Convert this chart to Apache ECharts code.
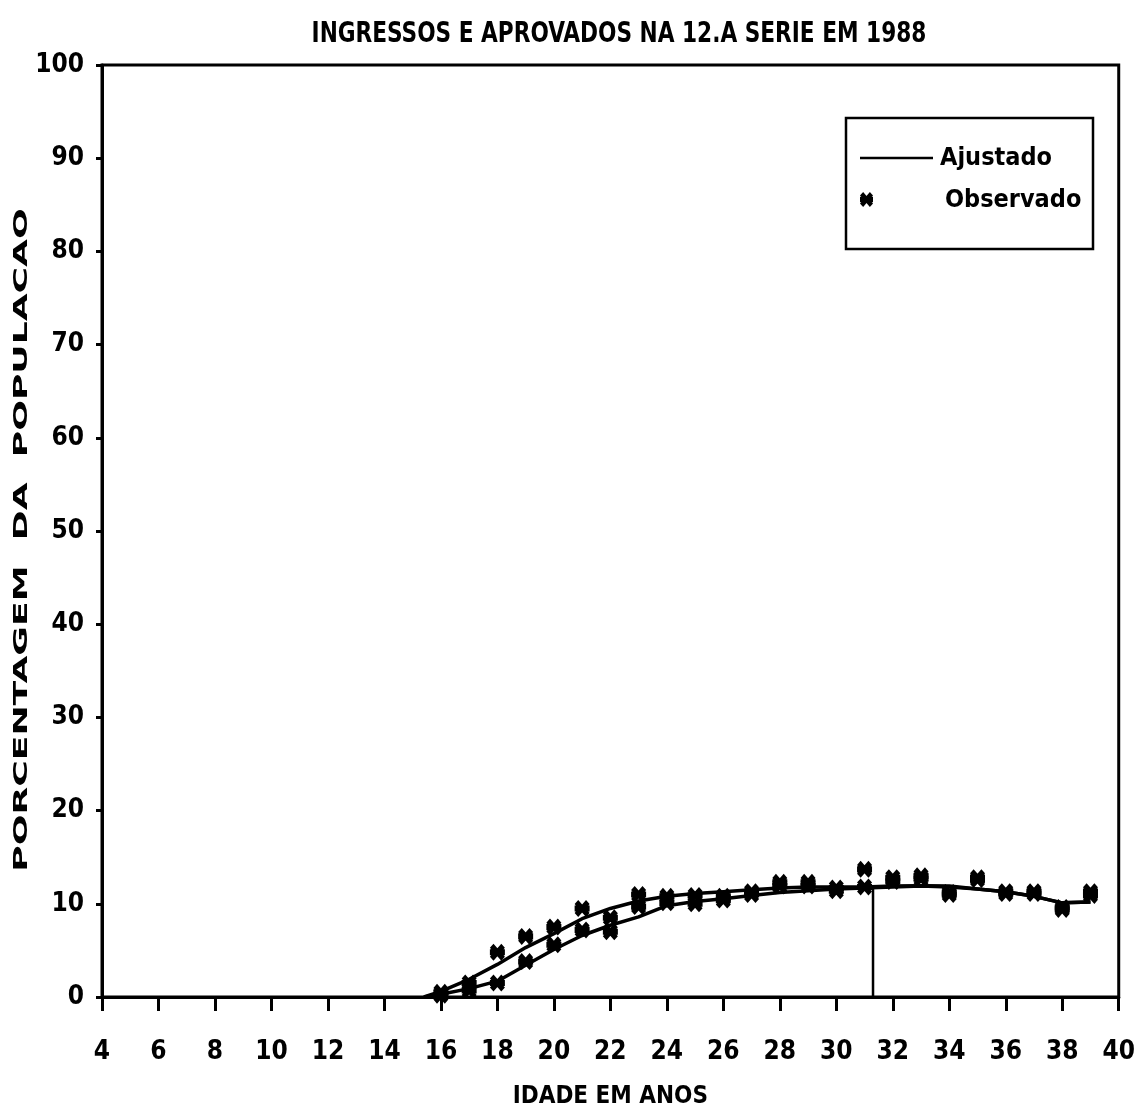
<!DOCTYPE html>
<html>
<head>
<meta charset="utf-8">
<title>Ingressos e aprovados na 12.a serie em 1988</title>
<script src="https://cdn.jsdelivr.net/npm/echarts@6/dist/echarts.min.js"></script>
<style>
  html, body { margin: 0; padding: 0; background: #fff; }
  #chart { width: 1138px; height: 1115px; }
</style>
</head>
<body>
<div id="chart"></div>
<script>
// Age axis (years) and percentage axis ticks
const xTicks = [4, 6, 8, 10, 12, 14, 16, 18, 20, 22, 24, 26, 28, 30, 32, 34, 36, 38, 40];
const yTicks = [0, 10, 20, 30, 40, 50, 60, 70, 80, 90, 100];

// Observed percentages by single year of age
const obsAges = [16, 17, 18, 19, 20, 21, 22, 23, 24, 25, 26, 27, 28, 29, 30, 31, 32, 33, 34, 35, 36, 37, 38, 39];
const obsIngressos = [0.5, 1.5, 4.8, 6.5, 7.5, 9.5, 8.5, 11.0, 10.8, 10.9, 10.8, 11.3, 12.3, 12.3, 11.7, 13.7, 12.8, 13.0, 11.0, 12.8, 11.3, 11.3, 9.6, 11.3];
const obsAprovados = [0.2, 0.7, 1.5, 3.8, 5.6, 7.2, 7.0, 9.7, 10.1, 10.0, 10.4, 11.0, 11.9, 11.9, 11.4, 11.8, 12.4, 12.7, 11.2, 12.6, 11.1, 11.1, 9.4, 10.9];

// Fitted curves
const fitAges = [15.4, 16, 17, 18, 19, 20, 21, 22, 23, 24, 25, 26, 27, 28, 29, 30, 31, 32, 33, 34, 35, 36, 37, 38, 39];
const fitIngressos = [0, 0.6, 1.9, 3.5, 5.3, 6.8, 8.4, 9.5, 10.3, 10.8, 11.1, 11.3, 11.5, 11.7, 11.8, 11.8, 11.8, 11.9, 11.95, 11.9, 11.6, 11.3, 10.8, 10.1, 10.2];
const fitAprovados = [0, 0.3, 0.9, 1.7, 3.4, 5.1, 6.6, 7.7, 8.6, 9.8, 10.25, 10.55, 10.9, 11.2, 11.4, 11.6, 11.7, 11.8, 11.9, 11.8, 11.6, 11.3, 10.8, 10.1, 10.2];

// Mean age marker
const meanAge = 31.3;
const meanLevel = 11.8;

const FONT = "'DejaVu Sans Condensed', 'Liberation Sans Narrow', 'Arial Narrow', sans-serif";

// Six-armed asterisk: horizontal bar plus two diagonals (10x10 box)
const STAR_PARTS = [
  [[0, 3.2], [10, 3.2], [10, 6.8], [0, 6.8]],
  [[0, 2.4], [2.4, 0], [10, 7.6], [7.6, 10]],
  [[7.6, 0], [10, 2.4], [2.4, 10], [0, 7.6]]
];
const STAR = 'path://' + STAR_PARTS.map(p => 'M' + p.map(q => q.join(',')).join(' L') + ' Z').join(' ');

const zip = (xs, ys) => xs.map((x, i) => [x, ys[i]]);

const chart = echarts.init(document.getElementById('chart'), null, { renderer: 'canvas' });

const axisText = { color: '#000', fontFamily: FONT, fontWeight: 'bold', fontSize: 26 };
const starStyle = { color: '#000', opacity: 1 };

chart.setOption({
  animation: false,
  backgroundColor: '#fff',
  grid: {
    left: 102, right: 17, top: 65, bottom: 118,
    show: true, borderColor: '#000', borderWidth: 3, backgroundColor: 'transparent'
  },
  xAxis: {
    type: 'value', min: xTicks[0], max: xTicks[xTicks.length - 1], interval: 2,
    name: 'IDADE EM ANOS', nameLocation: 'middle', nameGap: 88,
    nameTextStyle: { color: '#000', fontFamily: FONT, fontWeight: 'bold', fontSize: 24 },
    axisLine: { lineStyle: { color: '#000', width: 3 } },
    axisTick: { length: 14, lineStyle: { color: '#000', width: 3 } },
    axisLabel: Object.assign({ margin: 42 }, axisText),
    splitLine: { show: false }
  },
  yAxis: {
    type: 'value', min: yTicks[0], max: yTicks[yTicks.length - 1], interval: 10,
    axisLine: { show: true, lineStyle: { color: '#000', width: 3 } },
    axisTick: { show: true, length: 6, lineStyle: { color: '#000', width: 3 } },
    axisLabel: Object.assign({ margin: 18 }, axisText),
    splitLine: { show: false }
  },
  series: [
    {
      name: 'Ajustado', type: 'line', data: zip(fitAges, fitIngressos),
      showSymbol: false, lineStyle: { color: '#000', width: 3.5 }, z: 3
    },
    {
      name: 'Ajustado', type: 'line', data: zip(fitAges, fitAprovados),
      showSymbol: false, lineStyle: { color: '#000', width: 3.5 }, z: 3
    },
    {
      name: 'Media', type: 'line', data: [[meanAge, 0], [meanAge, meanLevel]],
      showSymbol: false, lineStyle: { color: '#000', width: 2.5 }, z: 3
    },
    {
      name: 'Observado', type: 'scatter', data: zip(obsAges, obsIngressos),
      symbol: STAR, symbolSize: [15, 17], itemStyle: starStyle, z: 4
    },
    {
      name: 'Observado', type: 'scatter', data: zip(obsAges, obsAprovados),
      symbol: STAR, symbolSize: [15, 17], itemStyle: starStyle, z: 4
    }
  ],
  graphic: [
    // Chart title
    {
      type: 'text', x: 619, y: 35, scaleX: 0.86,
      style: {
        text: 'INGRESSOS E APROVADOS NA 12.A SERIE EM 1988',
        font: 'bold 28px ' + FONT,
        fill: '#000', align: 'center', verticalAlign: 'middle'
      }
    },
    // Vertical axis title, letter-spaced by stretching along the reading direction
    {
      type: 'text', x: 22, y: 540, rotation: Math.PI / 2, scaleX: 1.9,
      style: {
        text: 'PORCENTAGEM  DA  POPULACAO',
        font: "bold 19px 'DejaVu Sans', sans-serif",
        fill: '#000', align: 'center', verticalAlign: 'middle'
      }
    },
    // Legend box
    {
      type: 'rect', shape: { x: 846, y: 118, width: 247, height: 131 },
      style: { fill: '#fff', stroke: '#000', lineWidth: 2.5 }, z: 10
    },
    {
      type: 'line', shape: { x1: 860, y1: 158, x2: 933, y2: 158 },
      style: { stroke: '#000', lineWidth: 2.5 }, z: 11
    },
    {
      type: 'text', x: 940, y: 158, z: 11,
      style: { text: 'Ajustado', fill: '#000', font: 'bold 25px ' + FONT, verticalAlign: 'middle' }
    },
    {
      type: 'group', x: 860, y: 192, scaleX: 1.3, scaleY: 1.5, z: 11,
      children: STAR_PARTS.map(p => ({
        type: 'polygon', shape: { points: p }, style: { fill: '#000' }, z: 11
      }))
    },
    {
      type: 'text', x: 945, y: 200, z: 11,
      style: { text: 'Observado', fill: '#000', font: 'bold 25px ' + FONT, verticalAlign: 'middle' }
    }
  ]
});
</script>
</body>
</html>
